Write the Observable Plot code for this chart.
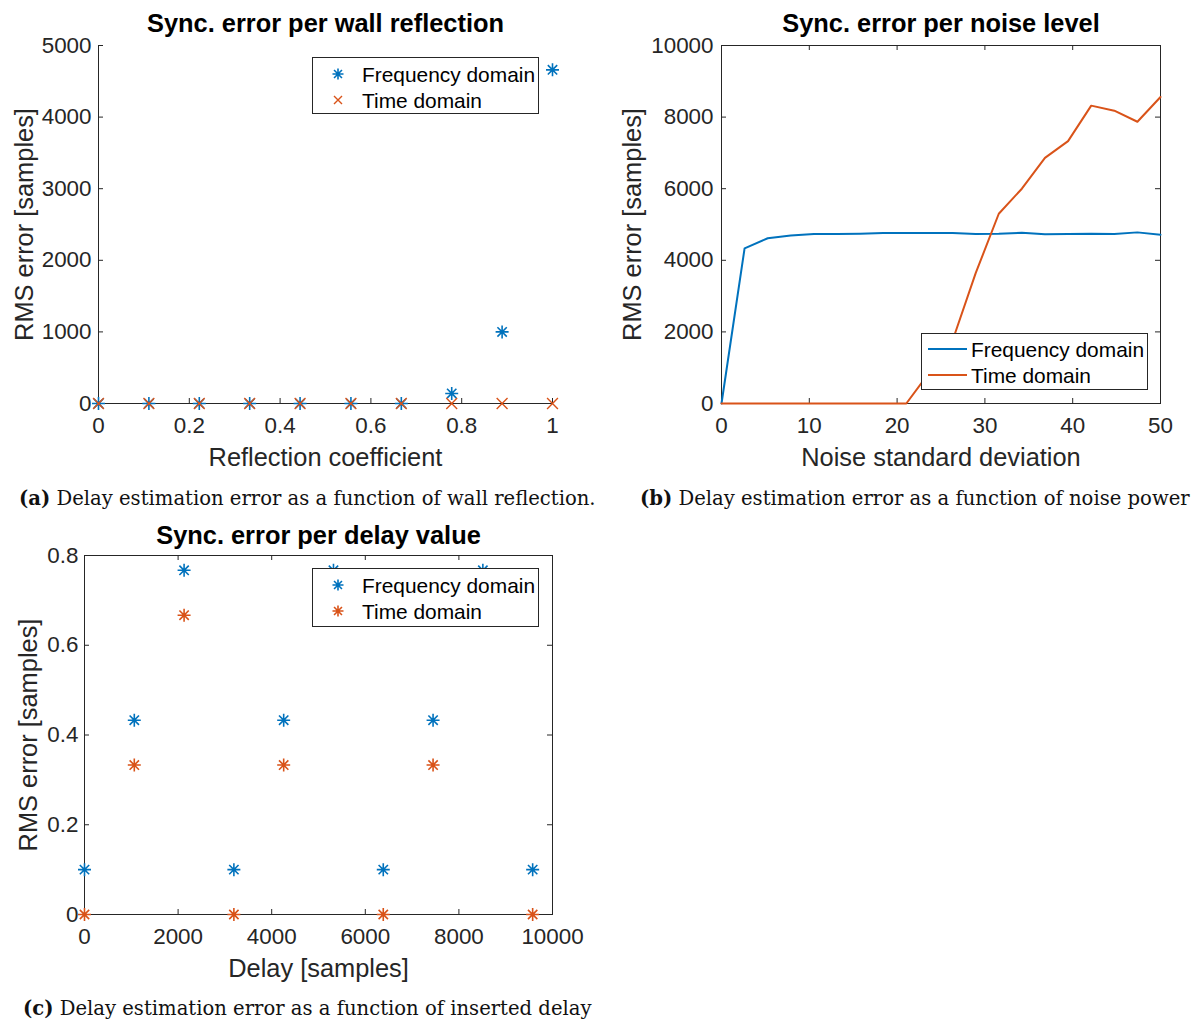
<!DOCTYPE html>
<html><head><meta charset="utf-8">
<script src="https://cdn.jsdelivr.net/npm/d3@7"></script>
<script src="https://cdn.jsdelivr.net/npm/@observablehq/plot@0.6"></script>
<style>
body{margin:0;background:#fff;}
#root{position:relative;width:1197px;height:1023px;overflow:hidden;background:#fff;font-family:"Liberation Sans",Arial,sans-serif;}
.panel{position:absolute;}
.caption{position:absolute;font-family:"DejaVu Serif",serif;font-size:19.6px;color:#111;white-space:nowrap;line-height:1;}
.legend{position:absolute;background:#fff;}
</style></head>
<body><div id="root"></div>
<script>
// ---------- data ----------
const reflX = [0, 0.111, 0.222, 0.333, 0.444, 0.556, 0.667, 0.778, 0.889, 1];
const reflFreq = [0, 0, 0, 0, 0, 0, 0, 140, 1000, 4660];
const reflTime = [0, 0, 0, 0, 0, 0, 0, 0, 0, 0];
const reflXTicks = [0, 0.2, 0.4, 0.6, 0.8, 1];
const reflYTicks = [0, 1000, 2000, 3000, 4000, 5000];

const noiseX = [0, 2.63, 5.26, 7.89, 10.53, 13.16, 15.79, 18.42, 21.05, 23.68, 26.32, 28.95, 31.58, 34.21, 36.84, 39.47, 42.11, 44.74, 47.37, 50];
const noiseFreq = [0, 4335, 4615, 4690, 4735, 4735, 4745, 4760, 4762, 4762, 4762, 4735, 4745, 4770, 4725, 4735, 4745, 4735, 4780, 4715];
const noiseTime = [0, 0, 0, 0, 0, 0, 0, 0, 0, 870, 1760, 3640, 5300, 6000, 6860, 7330, 8320, 8180, 7870, 8560];
const noiseXTicks = [0, 10, 20, 30, 40, 50];
const noiseYTicks = [0, 2000, 4000, 6000, 8000, 10000];

const delayX = [0, 1064, 2128, 3192, 4256, 5320, 6384, 7448, 8512, 9576];
const delayFreq = [0.1, 0.433, 0.767, 0.1, 0.433, 0.767, 0.1, 0.433, 0.767, 0.1];
const delayTime = [0, 0.333, 0.667, 0, 0.333, 0.667, 0, 0.333, 0.667, 0];
const delayXTicks = [0, 2000, 4000, 6000, 8000, 10000];
const delayYTicks = [0, 0.2, 0.4, 0.6, 0.8];

const seriesNames = ["Frequency domain", "Time domain"];
const titles = ["Sync. error per wall reflection", "Sync. error per noise level", "Sync. error per delay value"];
const xLabels = ["Reflection coefficient", "Noise standard deviation", "Delay [samples]"];
const yLabel = "RMS error [samples]";
const captions = [
  ["(a)", " Delay estimation error as a function of wall reflection."],
  ["(b)", " Delay estimation error as a function of noise power"],
  ["(c)", " Delay estimation error as a function of inserted delay"]
];

// ---------- styles ----------
const BLUE = "#0072BD", ORANGE = "#D95319", AX = "#262626";
const asterisk = {
  draw(ctx, size) {
    const r = Math.sqrt(size / Math.PI);
    const d = r * 0.72;
    ctx.moveTo(0, -r); ctx.lineTo(0, r);
    ctx.moveTo(-r, 0); ctx.lineTo(r, 0);
    ctx.moveTo(-d, -d); ctx.lineTo(d, d);
    ctx.moveTo(-d, d); ctx.lineTo(d, -d);
  }
};
const zip = (xs, ys) => xs.map((x, i) => ({x, y: ys[i]}));
const root = document.getElementById("root");

function makePanel(o) {
  const innerW = o.width - o.ml - o.mr, innerH = o.height - o.mt - o.mb;
  const T = 5;
  const marks = [];
  if (o.box) marks.push(Plot.frame({stroke: AX, strokeWidth: 1}));
  else {
    marks.push(Plot.ruleX([o.xDomain[0]], {stroke: AX, strokeWidth: 1}));
    marks.push(Plot.ruleY([o.yDomain[0]], {stroke: AX, strokeWidth: 1}));
  }
  // inward ticks
  marks.push(Plot.tickX(o.xTicks, {x: d => d, stroke: AX, insetTop: innerH - T}));
  marks.push(Plot.tickY(o.yTicks, {y: d => d, stroke: AX, insetRight: innerW - T}));
  if (o.box) {
    marks.push(Plot.tickX(o.xTicks, {x: d => d, stroke: AX, insetBottom: innerH - T}));
    marks.push(Plot.tickY(o.yTicks, {y: d => d, stroke: AX, insetLeft: innerW - T}));
  }
  marks.push(Plot.axisX({ticks: o.xTicks, tickSize: 0, tickPadding: o.xPad, tickFormat: d => String(d), label: null, fontSize: 22.4, fill: AX}));
  marks.push(Plot.axisY({ticks: o.yTicks, tickSize: 0, tickPadding: o.yPad, tickFormat: d => String(d), label: null, fontSize: 22.4, fill: AX}));
  marks.push(...o.data);
  marks.push(Plot.text([o.title], {frameAnchor: "top", dy: o.titleDy, lineAnchor: "middle", textAnchor: "middle", fontWeight: "bold", fontSize: 25.4, fill: "#000"}));
  marks.push(Plot.text([o.xlabel], {frameAnchor: "bottom", dy: o.xlDy, lineAnchor: "middle", textAnchor: "middle", fontSize: 25.4, fill: AX}));
  marks.push(Plot.text([o.ylabel], {frameAnchor: "left", dx: o.ylDx, rotate: -90, lineAnchor: "middle", textAnchor: "middle", fontSize: 25.4, fill: AX}));
  const svg = Plot.plot({
    width: o.width, height: o.height,
    marginLeft: o.ml, marginRight: o.mr, marginTop: o.mt, marginBottom: o.mb,
    style: {fontFamily: '"Liberation Sans", Arial, sans-serif', fontSize: "22.4px", color: AX, background: "transparent", overflow: "visible"},
    x: {domain: o.xDomain},
    y: {domain: o.yDomain},
    marks
  });
  const div = document.createElement("div");
  div.className = "panel";
  div.style.left = o.left + "px"; div.style.top = o.top + "px";
  div.appendChild(svg);
  root.appendChild(div);
}

// panel (a)
makePanel({
  left: 0, top: 0, width: 600, height: 480, ml: 98, mr: 48, mt: 45, mb: 77,
  xDomain: [0, 1], yDomain: [0, 5000], xTicks: reflXTicks, yTicks: reflYTicks, box: false,
  xPad: 14, yPad: 7, titleDy: -22, xlDy: 54, ylDx: -74,
  title: titles[0], xlabel: xLabels[0], ylabel: yLabel,
  data: [
    Plot.dot(zip(reflX, reflFreq), {x: "x", y: "y", symbol: asterisk, r: 6.5, fill: "none", stroke: BLUE, strokeWidth: 1.6}),
    Plot.dot(zip(reflX, reflTime), {x: "x", y: "y", symbol: "times", r: 5, fill: "none", stroke: ORANGE, strokeWidth: 1.4})
  ]
});

// panel (b)
makePanel({
  left: 600, top: 0, width: 597, height: 480, ml: 121, mr: 37, mt: 45, mb: 77,
  xDomain: [0, 50], yDomain: [0, 10000], xTicks: noiseXTicks, yTicks: noiseYTicks, box: true,
  xPad: 14, yPad: 8, titleDy: -22, xlDy: 54, ylDx: -89,
  title: titles[1], xlabel: xLabels[1], ylabel: yLabel,
  data: [
    Plot.line(zip(noiseX, noiseFreq), {x: "x", y: "y", stroke: BLUE, strokeWidth: 2}),
    Plot.line(zip(noiseX, noiseTime), {x: "x", y: "y", stroke: ORANGE, strokeWidth: 2})
  ]
});

// panel (c)
makePanel({
  left: 0, top: 510, width: 600, height: 480, ml: 84, mr: 48, mt: 45, mb: 76,
  xDomain: [0, 10000], yDomain: [0, 0.8], xTicks: delayXTicks, yTicks: delayYTicks, box: true,
  xPad: 14, yPad: 6, titleDy: -20, xlDy: 54, ylDx: -56,
  title: titles[2], xlabel: xLabels[2], ylabel: yLabel,
  data: [
    Plot.dot(zip(delayX, delayFreq), {x: "x", y: "y", symbol: asterisk, r: 6.5, fill: "none", stroke: BLUE, strokeWidth: 1.6}),
    Plot.dot(zip(delayX, delayTime), {x: "x", y: "y", symbol: asterisk, r: 6.5, fill: "none", stroke: ORANGE, strokeWidth: 1.6})
  ]
});

// ---------- legends ----------
const NS = "http://www.w3.org/2000/svg";
function el(tag, attrs, parent) {
  const e = document.createElementNS(NS, tag);
  for (const k in attrs) e.setAttribute(k, attrs[k]);
  if (parent) parent.appendChild(e);
  return e;
}
function starPath(cx, cy, r) {
  const d = r * 0.72;
  return `M${cx},${cy - r}L${cx},${cy + r}M${cx - r},${cy}L${cx + r},${cy}M${cx - d},${cy - d}L${cx + d},${cy + d}M${cx - d},${cy + d}L${cx + d},${cy - d}`;
}
function timesPath(cx, cy, r) {
  return `M${cx - r},${cy - r}L${cx + r},${cy + r}M${cx - r},${cy + r}L${cx + r},${cy - r}`;
}
function legend(left, top, w, h, rows, kinds) {
  const div = document.createElement("div");
  div.className = "legend";
  div.style.left = left + "px"; div.style.top = top + "px";
  const svg = el("svg", {width: w, height: h});
  el("rect", {x: 0.5, y: 0.5, width: w - 1, height: h - 1, fill: "#fff", stroke: AX, "stroke-width": 1}, svg);
  kinds.forEach((k, i) => {
    const cy = rows[i];
    const col = i === 0 ? BLUE : ORANGE;
    if (k === "star") el("path", {d: starPath(26, cy, 5.5), stroke: col, "stroke-width": 1.6, fill: "none"}, svg);
    else if (k === "times") el("path", {d: timesPath(26, cy, 4), stroke: col, "stroke-width": 1.4, fill: "none"}, svg);
    else el("line", {x1: 7, x2: 46, y1: cy, y2: cy, stroke: col, "stroke-width": 2}, svg);
    const t = el("text", {x: 50, y: cy, "dominant-baseline": "central", "font-size": 20.9, fill: "#000", "font-family": '"Liberation Sans", Arial, sans-serif'}, svg);
    t.textContent = seriesNames[i];
  });
  div.appendChild(svg);
  root.appendChild(div);
}
legend(312, 57, 227, 57, [17, 43], ["star", "times"]);
legend(921, 333, 227, 57, [16, 42], ["line", "line"]);
legend(312, 568, 227, 59, [17, 43], ["star", "star"]);

// ---------- captions ----------
function caption(left, cy, parts) {
  const d = document.createElement("div");
  d.className = "caption";
  d.style.left = left + "px"; d.style.top = (cy - 10) + "px";
  const b = document.createElement("b"); b.textContent = parts[0];
  d.appendChild(b);
  d.appendChild(document.createTextNode(parts[1]));
  root.appendChild(d);
}
caption(19, 499, captions[0]);
caption(640, 499, captions[1]);
caption(23, 1009, captions[2]);
</script>
</body></html>
